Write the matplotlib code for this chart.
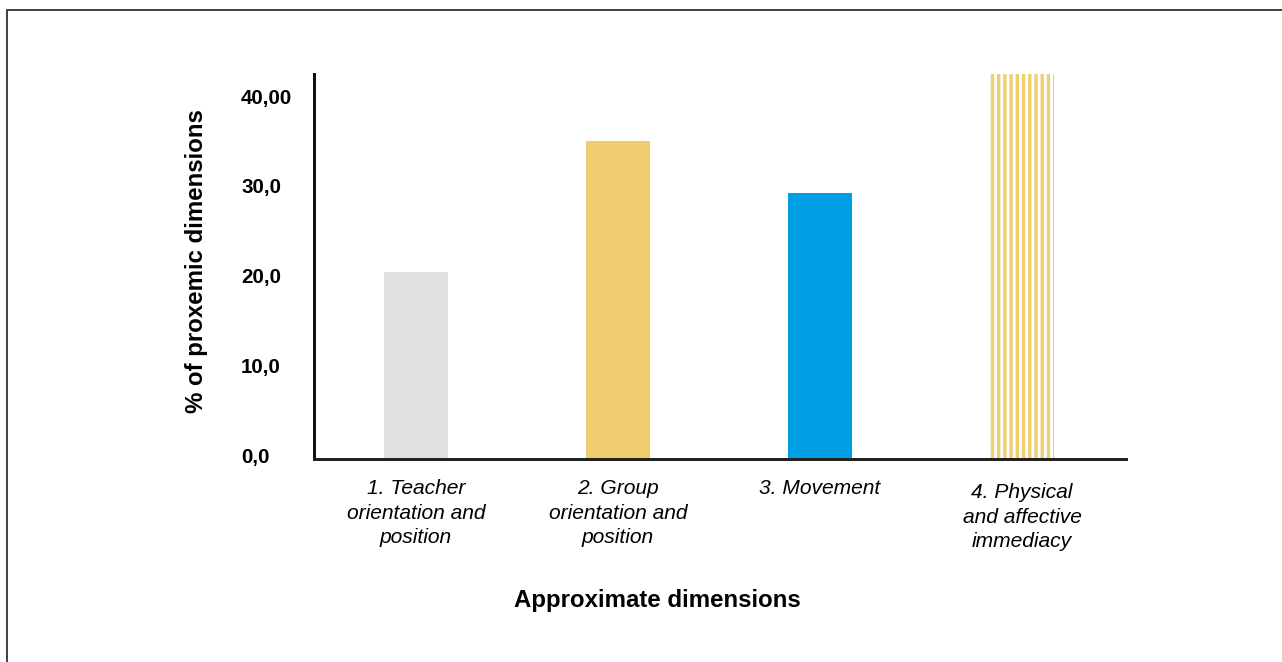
import matplotlib
matplotlib.use("Agg")
from matplotlib import pyplot as plt
from matplotlib.lines import Line2D
import matplotlib.transforms as mtransforms

categories = ["1. Teacher\norientation and\nposition",
              "2. Group\norientation and\nposition",
              "3. Movement",
              "4. Physical\nand affective\nimmediacy"]
values = [20.8, 35.4, 29.6, 42.9]
bar_colors = ["#E1E1E1", "#EFCD6E", "#009FE3", "white"]
y_ticks = [0, 10, 20, 30, 40]
y_tick_labels = ["0,0", "10,0", "20,0", "30,0", "40,00"]

DPI = 112


def px(p):
    # pixel size -> points at this dpi
    return p * 72 / DPI


def main():
    plt.rcParams["font.family"] = ["Liberation Sans", "DejaVu Sans"]
    plt.rcParams["hatch.linewidth"] = px(3.4)

    fig = plt.figure(figsize=(1282 / DPI, 662 / DPI), dpi=DPI)
    ax = fig.add_axes([314 / 1282, 1 - 459 / 662, (1126 - 314) / 1282, (459 - 74) / 662])

    x = list(range(len(categories)))
    bars = ax.bar(x, values, width=0.317, color=bar_colors, linewidth=0)
    # last bar is drawn as vertical stripes
    bars[-1].set_hatch("|||")
    bars[-1].set_edgecolor("#F0CF70")

    ax.set_xlim(-0.505, 3.515)
    ax.set_ylim(0, 42.9)

    for side in ["top", "right"]:
        ax.spines[side].set_visible(False)
    ax.spines["left"].set_linewidth(px(3))
    ax.spines["left"].set_color("#111111")
    ax.spines["bottom"].set_linewidth(px(3))
    ax.spines["bottom"].set_color("#222222")

    ax.set_yticks(y_ticks)
    ax.set_yticklabels(y_tick_labels, fontsize=px(20.5), fontweight="bold")
    ax.tick_params(axis="y", length=0, pad=px(73))
    for lbl in ax.get_yticklabels():
        lbl.set_horizontalalignment("left")
        lbl.set_transform(lbl.get_transform() + mtransforms.ScaledTranslation(0, 4 / DPI, fig.dpi_scale_trans))

    ax.set_xticks(x)
    ax.set_xticklabels(categories, fontsize=px(21), fontstyle="italic", linespacing=1.38)
    ax.tick_params(axis="x", length=0, pad=px(20))
    last = ax.get_xticklabels()[-1]
    last.set_transform(last.get_transform() + mtransforms.ScaledTranslation(0, -4 / DPI, fig.dpi_scale_trans))

    fig.text(197 / 1282, 1 - 261 / 662, "% of proxemic dimensions", rotation=90,
             ha="center", va="center", fontsize=px(24), fontweight="bold")
    fig.text(657 / 1282, 1 - 601 / 662, "Approximate dimensions",
             ha="center", va="center", fontsize=px(24), fontweight="bold")

    # partial frame around the figure
    fig.add_artist(Line2D([7 / 1282, 7 / 1282], [0, 1 - 10 / 662], transform=fig.transFigure,
                          color="#444444", linewidth=px(2)))
    fig.add_artist(Line2D([7 / 1282, 1], [1 - 10 / 662, 1 - 10 / 662], transform=fig.transFigure,
                          color="#444444", linewidth=px(2)))

    fig.savefig("out.png", dpi=DPI, facecolor="white")


if __name__ == "__main__":
    main()
